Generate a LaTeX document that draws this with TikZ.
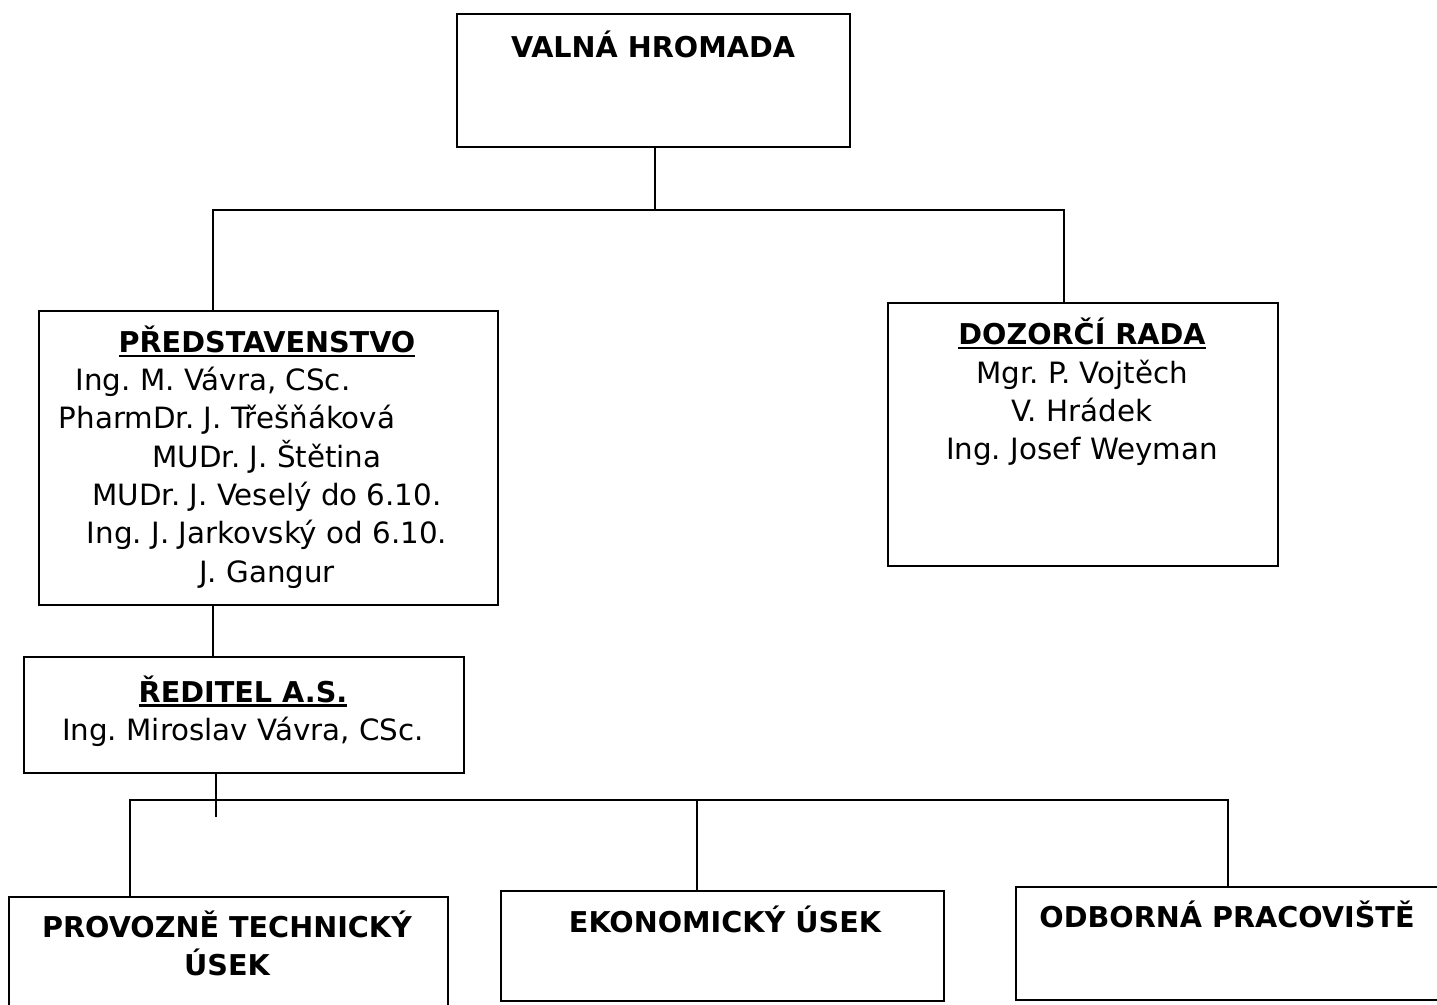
\documentclass[tikz,border=0pt]{standalone}
\usepackage{fontspec}
\setmainfont{DejaVu Sans}
\usetikzlibrary{positioning}
\frenchspacing
\newcommand{\podtrh}[1]{\setbox0=\hbox{#1}\rlap{\rule[-3.4pt]{\wd0}{1.7pt}}\box0}
\tikzset{
  box/.style={draw=black,line width=1.6pt,fill=none},
  txt/.style={inner sep=0pt,align=center,font=\fontsize{22}{28.7}\selectfont},
  titl/.style={txt,font=\fontsize{21.5}{28.7}\selectfont\bfseries},
  conn/.style={draw=black,line width=1.1pt},
}
\begin{document}
\begin{tikzpicture}[x=0.75pt,y=-0.75pt]
  \useasboundingbox (0,0) rectangle (1437,1005);
  % boxes
  \node[box,inner sep=0pt,minimum width=294.75pt,minimum height=99.75pt] (valna) at (653.5,80.5) {};
  \node[titl] (valnaT) at (653,44) {VALNÁ HROMADA};

  \node[box,inner sep=0pt,minimum width=344.25pt,minimum height=220.5pt] (pred) at (268.5,458) {};
  \node[txt] (predT) at (267,457) {{\fontsize{21.5}{28.7}\selectfont\bfseries\podtrh{PŘEDSTAVENSTVO}}\\
    \hbox{\kern-81pt Ing. M. Vávra, CSc.}\\
    \hbox{\kern-60pt PharmDr. J. Třešňáková}\\
    MUDr. J. Štětina\\
    MUDr. J. Veselý do 6.10.\\
    Ing. J. Jarkovský od 6.10.\\
    J. Gangur};

  \node[box,inner sep=0pt,minimum width=292.5pt,minimum height=197.25pt] (dozor) at (1083,434.5) {};
  \node[txt] (dozorT) at (1082,392) {{\fontsize{21.5}{28.7}\selectfont\bfseries\podtrh{DOZORČÍ RADA}}\\
    Mgr. P. Vojtěch\\
    V. Hrádek\\
    Ing. Josef Weyman};

  \node[box,inner sep=0pt,minimum width=330pt,minimum height=87pt] (reditel) at (244,715) {};
  \node[txt] (reditelT) at (243,711) {{\fontsize{21.5}{28.7}\selectfont\bfseries\podtrh{ŘEDITEL A.S.}}\\
    Ing. Miroslav Vávra, CSc.};

  \node[box,inner sep=0pt,minimum width=329.25pt,minimum height=86.25pt] (prov) at (228.5,954.5) {};
  \node[titl] (provT) at (227,943.5) {PROVOZNĚ TECHNICKÝ\\ ÚSEK};

  \node[box,inner sep=0pt,minimum width=332.25pt,minimum height=82.5pt] (ekon) at (722.5,946) {};
  \node[titl] (ekonT) at (725,919) {EKONOMICKÝ ÚSEK};

  \node[box,inner sep=0pt,minimum width=321.75pt,minimum height=84.75pt] (odb) at (1230.5,943.5) {};
  \node[titl] (odbT) at (1227,914) {ODBORNÁ PRACOVIŠTĚ};

  % connectors
  \coordinate (busL) at (213,210);
  \coordinate (busR) at (1064,210);
  \coordinate (busM) at (655,210);
  \draw[conn] (valna.south -| busM) -- (busM);
  \draw[conn] (pred.north -| busL) -- (busL) -- (busR) -- (dozor.north -| busR);
  \draw[conn] (pred.south -| busL) -- (reditel.north -| busL);

  \coordinate (stub) at (216,817);
  \coordinate (dolL) at (130,800);
  \coordinate (dolM) at (697,800);
  \coordinate (dolR) at (1228,800);
  \draw[conn] (reditel.south -| stub) -- (stub);
  \draw[conn] (prov.north -| dolL) -- (dolL) -- (dolR) -- (odb.north -| dolR);
  \draw[conn] (dolM) -- (ekon.north -| dolM);
\end{tikzpicture}
\end{document}
